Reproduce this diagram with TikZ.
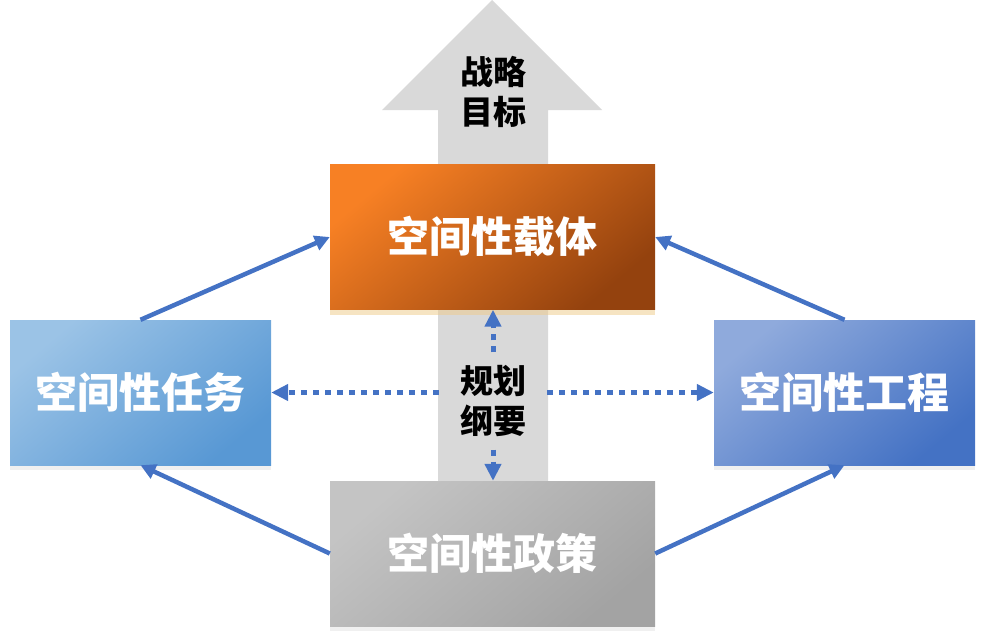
\documentclass[tikz,border=0pt]{standalone}
\usepackage{fontspec}
\newfontfamily\cjk{Noto Sans CJK SC}
\usepackage{tikz}
\usetikzlibrary{positioning,arrows.meta,shadows}
\definecolor{spOrangeL}{RGB}{247,128,36}
\definecolor{spOrangeD}{RGB}{148,66,14}
\definecolor{spBlueL}{RGB}{155,195,230}
\definecolor{spBlueD}{RGB}{88,152,212}
\definecolor{spIndigoL}{RGB}{143,170,220}
\definecolor{spIndigoD}{RGB}{68,114,196}
\definecolor{spGrayL}{RGB}{196,196,196}
\definecolor{spGrayD}{RGB}{163,163,163}
\definecolor{spShaft}{RGB}{217,217,217}
\definecolor{spLink}{RGB}{68,114,196}
\definecolor{spGlow}{RGB}{255,214,140}
\tikzset{
    base/.style={align=center, inner sep=0pt},
    block/.style={base, rectangle, minimum width=325pt, minimum height=145pt,
                  text=white, font=\cjk\bfseries\fontsize{42}{50}\selectfont,
                  drop shadow={opacity=0.12, shadow xshift=0pt, shadow yshift=-5pt}},
    sideblock/.style={block, minimum width=261pt},
    carrierbox/.style={block, top color=spOrangeL, bottom color=spOrangeD, shading angle=40,
                  drop shadow={fill=spGlow, opacity=0.45, shadow xshift=0pt, shadow yshift=-5pt}},
    taskbox/.style={sideblock, top color=spBlueL, bottom color=spBlueD, shading angle=40},
    enginebox/.style={sideblock, top color=spIndigoL, bottom color=spIndigoD, shading angle=40},
    policybox/.style={block, top color=spGrayL, bottom color=spGrayD, shading angle=40},
    note/.style={base, text=black, font=\cjk\bfseries\fontsize{33}{40}\selectfont},
    link/.style={-{Triangle[length=15pt,width=15pt]}, line width=4.5pt, draw=spLink},
    dotlink/.style={-{Triangle[length=17pt,width=16pt]}, line width=5pt, draw=spLink,
                    dash pattern=on 6pt off 6pt}
}
\begin{document}
\begin{tikzpicture}[x=1pt,y=-1pt]
  \useasboundingbox (0,0) rectangle (985,643);

  % big arrow behind
  \fill[spShaft] (438,485) -- (438,110) -- (382,110) -- (492,0)
                 -- (602,110) -- (548,110) -- (548,485) -- cycle;
  \node[note] (goal) at (493,92) {战略\\目标};

  % four boxes
  \node[carrierbox] (carrier) at (492.5,237) {空间性载体};
  \node[taskbox] (task) at (140.5,392.5) {空间性任务};
  \node[enginebox] (engine) at (844.5,392.5) {空间性工程};
  \node[policybox] (policy) at (492.5,553.5) {空间性政策};

  % centre label
  \node[note, minimum width=108pt, minimum height=97pt] (plan) at (493,401) {规划\\纲要};

  % solid links
  \draw[link] (task.north) -- (carrier.west);
  \draw[link] (engine.north) -- (carrier.east);
  \draw[link] (policy.west) -- (task.south);
  \draw[link] (policy.east) -- (engine.south);

  % dotted links
  \draw[dotlink] (plan.west |- task.east) -- (task.east);
  \draw[dotlink] (plan.east |- engine.west) -- (engine.west);
  \draw[dotlink] (plan.north) -- (plan.north |- carrier.south);
  \draw[dotlink] (plan.south) -- (plan.south |- policy.north);
\end{tikzpicture}
\end{document}
